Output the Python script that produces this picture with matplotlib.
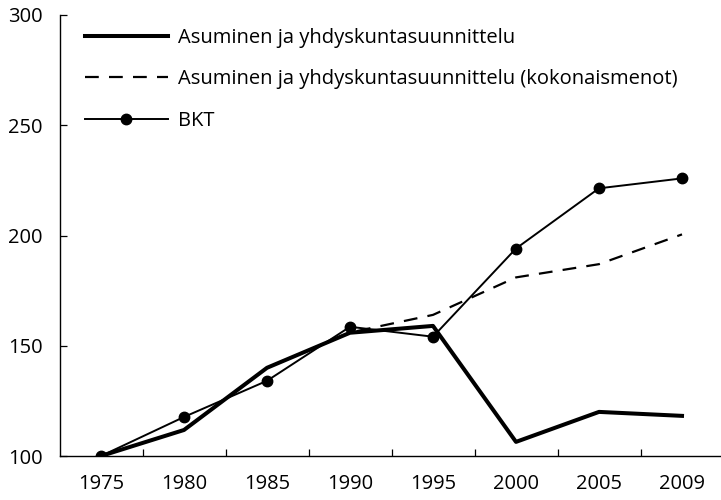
import matplotlib
matplotlib.use("Agg")
import matplotlib.pyplot as plt
import numpy as np

years = ["1975", "1980", "1985", "1990", "1995", "2000", "2005", "2009"]
asuminen = [100, 111.8, 140, 155.9, 159, 106.4, 120, 118.2]
asuminen_kok = [100, 111.8, 140, 156, 164, 181, 187, 200.5]
bkt = [100, 117.7, 134.1, 158.6, 154.1, 194.1, 221.4, 225.9]

labels = ["Asuminen ja yhdyskuntasuunnittelu",
          "Asuminen ja yhdyskuntasuunnittelu (kokonaismenot)",
          "BKT"]

plt.rcParams['font.family'] = ['Open Sans', 'DejaVu Sans']
FS = 14.5

W, H = 721, 500
fig = plt.figure(figsize=(W / 100, H / 100), dpi=100)
ax = fig.add_axes([59.5 / W, 44 / H, 664 / W, 441 / H])

x = np.arange(len(years))
ax.plot(x, asuminen_kok, color='black', lw=1.6, ls=(0, (6.2, 4.6)), label=labels[1], zorder=2)
ax.plot(x, asuminen, color='black', lw=2.9, label=labels[0], zorder=3)
ax.plot(x, bkt, color='black', lw=1.4, marker='o', ms=7.5, label=labels[2], zorder=4)

ax.set_xlim(-0.5, len(years) - 0.5)
ax.set_ylim(100, 300)
ax.set_yticks([100, 150, 200, 250, 300])
ax.set_xticks(x)
ax.set_xticklabels(years)
ax.set_xticks(np.arange(len(years) - 1) + 0.5, minor=True)
ax.tick_params(axis='x', which='major', length=0, pad=13, labelsize=FS)
ax.tick_params(axis='x', which='minor', direction='in', length=5, width=0.9)
ax.tick_params(axis='y', direction='in', length=5, width=0.9, pad=12, labelsize=FS)
for s in ['top', 'right']:
    ax.spines[s].set_visible(False)
for s in ['left', 'bottom']:
    ax.spines[s].set_linewidth(1.0)

h, l = ax.get_legend_handles_labels()
order = [1, 0, 2]
leg = fig.legend([h[i] for i in order], [l[i] for i in order],
                 loc='upper left', bbox_to_anchor=(85 / W, 1 - 28 / H),
                 frameon=False, fontsize=FS, borderpad=0, borderaxespad=0,
                 handlelength=4.1, handletextpad=0.5, labelspacing=1.06,
                 numpoints=1)

fig.savefig("out.png", dpi=100)
